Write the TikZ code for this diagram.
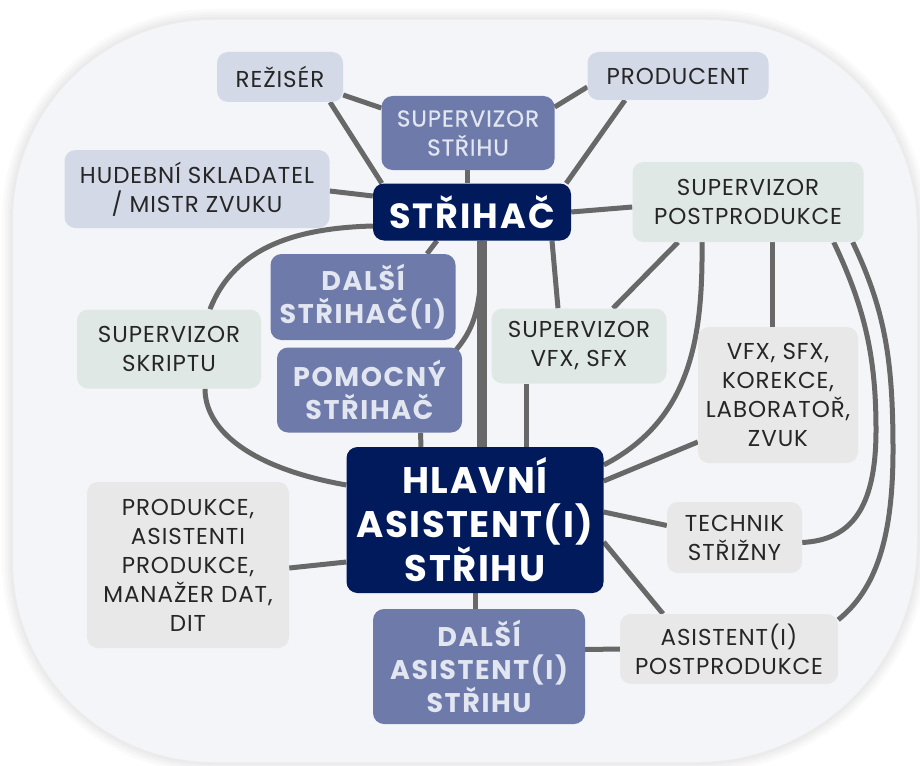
\documentclass[tikz,border=0pt]{standalone}
\usepackage{fontspec}
\setmainfont{Poppins}
\usetikzlibrary{backgrounds}

\definecolor{navy}{HTML}{011A5C}
\definecolor{slate}{HTML}{6E7BAA}
\definecolor{haze}{HTML}{D4D9E7}
\definecolor{sage}{HTML}{DFE8E4}
\definecolor{mist}{HTML}{E8E8E9}
\definecolor{wire}{HTML}{686868}
\definecolor{paper}{HTML}{F4F5F9}
\definecolor{ink}{HTML}{262626}
\definecolor{chalk}{HTML}{E2E6F1}

\tikzset{
  box/.style={rounded corners=11pt, inner sep=0pt, align=center, text=ink,
    font=\fontsize{23}{29}\selectfont\addfontfeatures{LetterSpace=4}},
  lead/.style={box, fill=navy, text=white},
  aide/.style={box, fill=slate, text=chalk,
    font=\fontsize{27}{33}\selectfont\bfseries\addfontfeatures{LetterSpace=6}},
  link/.style={draw=wire, line width=5pt},
}

\begin{document}
\begin{tikzpicture}[x=1pt, y=-1pt]
    \useasboundingbox (0,0) rectangle (920,765);

    % Nodes
    \node[box, fill=haze, minimum width=126, minimum height=50] (rez) at (280,77) {REŽISÉR};
    \node[box, fill=haze, minimum width=181, minimum height=48] (prod) at (678,76) {PRODUCENT};
    \node[aide, minimum width=173, minimum height=74,
      font=\fontsize{23}{29}\selectfont\addfontfeatures{LetterSpace=4,FakeBold=0.6}] (sup) at (468,133) {SUPERVIZOR\\STŘIHU};
    \node[box, fill=haze, minimum width=265, minimum height=78] (hud) at (197,189) {HUDEBNÍ SKLADATEL\\/ MISTR ZVUKU};
    \node[lead, minimum width=198, minimum height=57,
      font=\fontsize{35}{40}\selectfont\bfseries\addfontfeatures{LetterSpace=6}] (s) at (472,212) {STŘIHAČ};
    \node[box, fill=sage, minimum width=231, minimum height=80] (post) at (748,202) {SUPERVIZOR\\POSTPRODUKCE};
    \node[aide, minimum width=185, minimum height=86] (s2) at (363,297) {DALŠÍ\\STŘIHAČ(I)};
    \node[box, fill=sage, minimum width=184, minimum height=79] (skr) at (169,349) {SUPERVIZOR\\SKRIPTU};
    \node[aide, minimum width=185, minimum height=85] (pom) at (369.5,390) {POMOCNÝ\\STŘIHAČ};
    \node[box, fill=sage, minimum width=175, minimum height=75] (vfx) at (579,346) {SUPERVIZOR\\VFX, SFX};
    \node[box, fill=mist, minimum width=160, minimum height=136] (lab) at (778,395) {VFX, SFX,\\KOREKCE,\\LABORATOŘ,\\ZVUK};
    \node[lead, minimum width=257, minimum height=146,
      font=\fontsize{37}{44}\selectfont\bfseries\addfontfeatures{LetterSpace=4}] (h) at (475,520) {HLAVNÍ\\ASISTENT(I)\\STŘIHU};
    \node[box, fill=mist, minimum width=202, minimum height=166] (pr) at (188,565) {PRODUKCE,\\ASISTENTI\\PRODUKCE,\\MANAŽER DAT,\\DIT};
    \node[box, fill=mist, minimum width=135, minimum height=71] (tech) at (734.5,537.5) {TECHNIK\\STŘIŽNY};
    \node[aide, minimum width=212, minimum height=115] (h2) at (479,666.5) {DALŠÍ\\ASISTENT(I)\\STŘIHU};
    \node[box, fill=mist, minimum width=218, minimum height=70] (ap) at (729,649) {ASISTENT(I)\\POSTPRODUKCE};

    \begin{scope}[on background layer]
    % Backdrop
    \foreach \w in {22,16,11,6} {
      \draw[black, opacity=0.018, line width=\w pt] (13,220) .. controls (13,109.5) and (102.5,20) .. (213,20)
        -- (707,20) .. controls (823,20) and (917,114) .. (917,230) -- (917,542)
        .. controls (917,663.5) and (818.5,762) .. (697,762) -- (213,762)
        .. controls (102.5,762) and (13,672.5) .. (13,562) -- cycle;
    }
    \fill[paper] (13,220) .. controls (13,109.5) and (102.5,20) .. (213,20)
        -- (707,20) .. controls (823,20) and (917,114) .. (917,230) -- (917,542)
        .. controls (917,663.5) and (818.5,762) .. (697,762) -- (213,762)
        .. controls (102.5,762) and (13,672.5) .. (13,562) -- cycle;

    % Links
    \draw[link] ([yshift=-18]rez.east) -- ([yshift=25]sup.west);
    \draw[link] ([xshift=50]rez.south) -- ([xshift=9]s.north west);
    \draw[link] ([yshift=-11]prod.west) -- ([yshift=26]sup.east);
    \draw[link] ([xshift=-53]prod.south) -- ([xshift=-5]s.north east);
    \draw[link] ([xshift=-1]sup.south) -- ([xshift=-5]s.north);
    \draw[link] ([yshift=-2]hud.east) -- ([yshift=16]s.west);
    \draw[link] (s.east) -- ([yshift=-5]post.west);
    \draw[link] ([yshift=-14]s.west) .. controls (300,228) and (235,245) .. ([xshift=41]skr.north);
    \draw[link] ([xshift=-35]s.south) -- ([xshift=64]s2.north);
    \draw[link] ([xshift=-10,yshift=-7]pom.north east) .. controls (474,330) and (482,310) .. ([xshift=10]s.south);
    \draw[link, line width=10pt] ([xshift=10]s.south) -- ([xshift=7]h.north);
    \draw[link] ([xshift=80]s.south) -- ([xshift=-21]vfx.north);
    \draw[link] ([xshift=51]pom.south) -- ([xshift=-54]h.north);
    \draw[link] ([xshift=36]skr.south) .. controls (205,430) and (250,468) .. ([yshift=35]h.west);
    \draw[link] ([xshift=-53]vfx.south) -- ([xshift=51]h.north);
    \draw[link] ([xshift=-70]post.south) -- ([xshift=34]vfx.north);
    \draw[link] ([xshift=-46]post.south) .. controls (703,340) and (690,420) .. ([yshift=55]h.east);
    \draw[link] ([xshift=24]post.south) -- ([xshift=-6]lab.north);
    \draw[link] ([yshift=-47]lab.west) -- ([yshift=39]h.east);
    \draw[link] ([yshift=8]h.east) -- ([yshift=12]tech.west);
    \draw[link] ([yshift=-22]h.east) -- ([xshift=-66]ap.north);
    \draw[link] ([yshift=-3]pr.east) -- ([yshift=-42]h.west);
    \draw[link] (h.south) -- ([xshift=-4]h2.north);
    \draw[link] ([yshift=17]h2.east) -- (ap.west);
    \draw[link] ([xshift=-30]post.south east) .. controls (866,310) and (876,360) .. (876,430)
        .. controls (876,510) and (850,540) .. ([yshift=-5]tech.east);
    \draw[link] ([xshift=-11]post.south east) .. controls (885,310) and (893,360) .. (893,450)
        .. controls (893,540) and (875,590) .. ([yshift=-6]ap.north east);
    \end{scope}
\end{tikzpicture}
\end{document}
